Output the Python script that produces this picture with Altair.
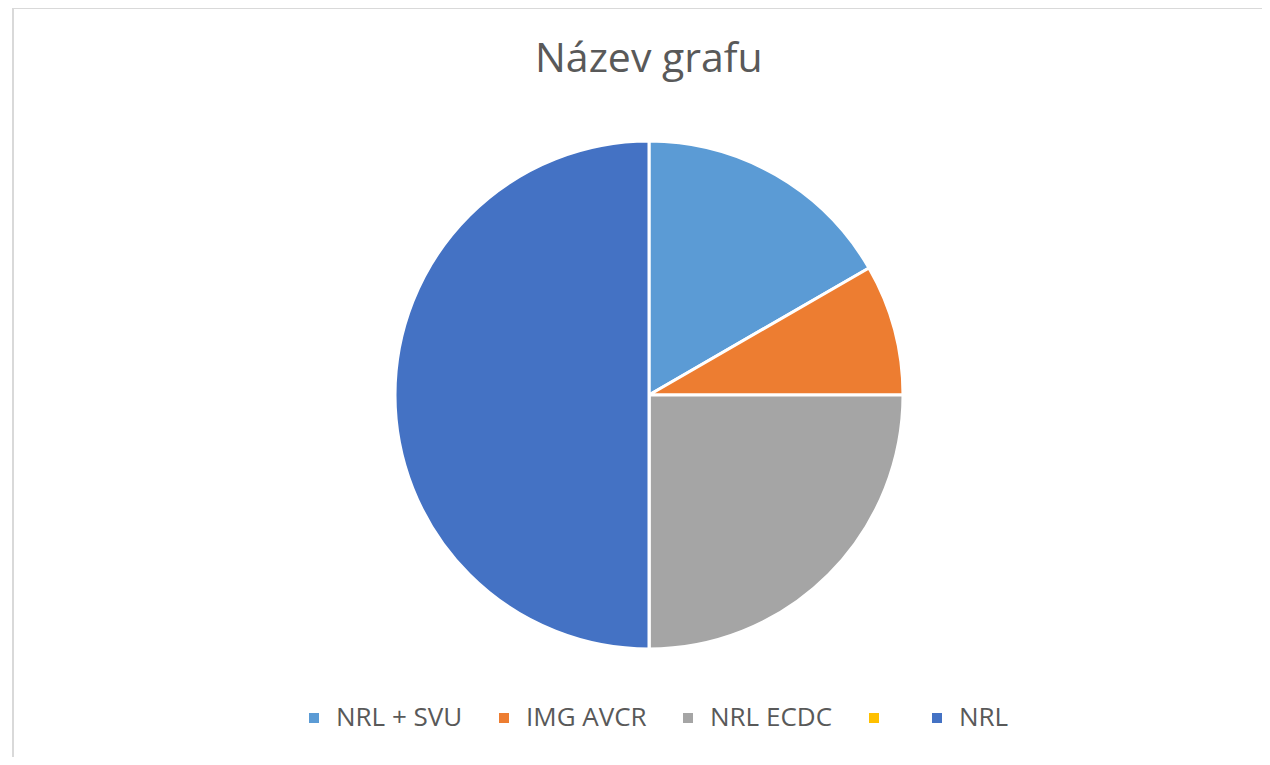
import altair as alt
import pandas as pd

categories = ["NRL + SVU", "IMG AVCR", "NRL ECDC", "", "NRL"]
values = [2, 1, 3, 0, 6]
colors = ["#5B9BD5", "#ED7D31", "#A5A5A5", "#FFC000", "#4472C4"]

df = pd.DataFrame({"cat": categories, "val": values, "idx": list(range(len(categories)))})

W, H = 1250, 749
CX, CY, R = 637, 387, 254

pie = alt.Chart(df).mark_arc(stroke="white", strokeWidth=3, radius=R).encode(
    theta=alt.Theta("val:Q", stack=True),
    color=alt.Color(
        "cat:N",
        scale=alt.Scale(domain=categories, range=colors),
        sort=categories,
        legend=alt.Legend(
            title=None,
            orient="none",
            direction="horizontal",
            legendX=289,
            legendY=697,
            symbolType="square",
            symbolSize=100,
            symbolStrokeWidth=0,
            labelFontSize=26,
            labelFont="Open Sans",
            labelColor="#595959",
            labelOffset=9,
            columnPadding=28,
        ),
    ),
    order=alt.Order("idx:Q"),
    x=alt.value(CX),
    y=alt.value(CY),
)

border_top = alt.Chart(df).mark_rule(color="#d9d9d9", strokeWidth=2).encode(
    x=alt.value(0), x2=alt.value(W), y=alt.value(0)
)
border_left = alt.Chart(df).mark_rule(color="#d9d9d9", strokeWidth=2).encode(
    x=alt.value(1), y=alt.value(0), y2=alt.value(H)
)

chart = (
    alt.layer(border_top, border_left, pie)
    .properties(
        width=W,
        height=H,
        autosize=alt.AutoSizeParams(type="none"),
        padding={"left": 4, "top": 0, "right": 0, "bottom": 0},
        title=alt.Title(
            "Název grafu",
            fontSize=41,
            font="Open Sans",
            fontWeight="normal",
            color="#595959",
            anchor="start",
            dx=CX - 113,
            offset=-106,
            baseline="alphabetic",
        ),
    )
    .configure_view(stroke=None)
)

chart.save("out.html", embed_options={"renderer": "svg", "actions": False})
